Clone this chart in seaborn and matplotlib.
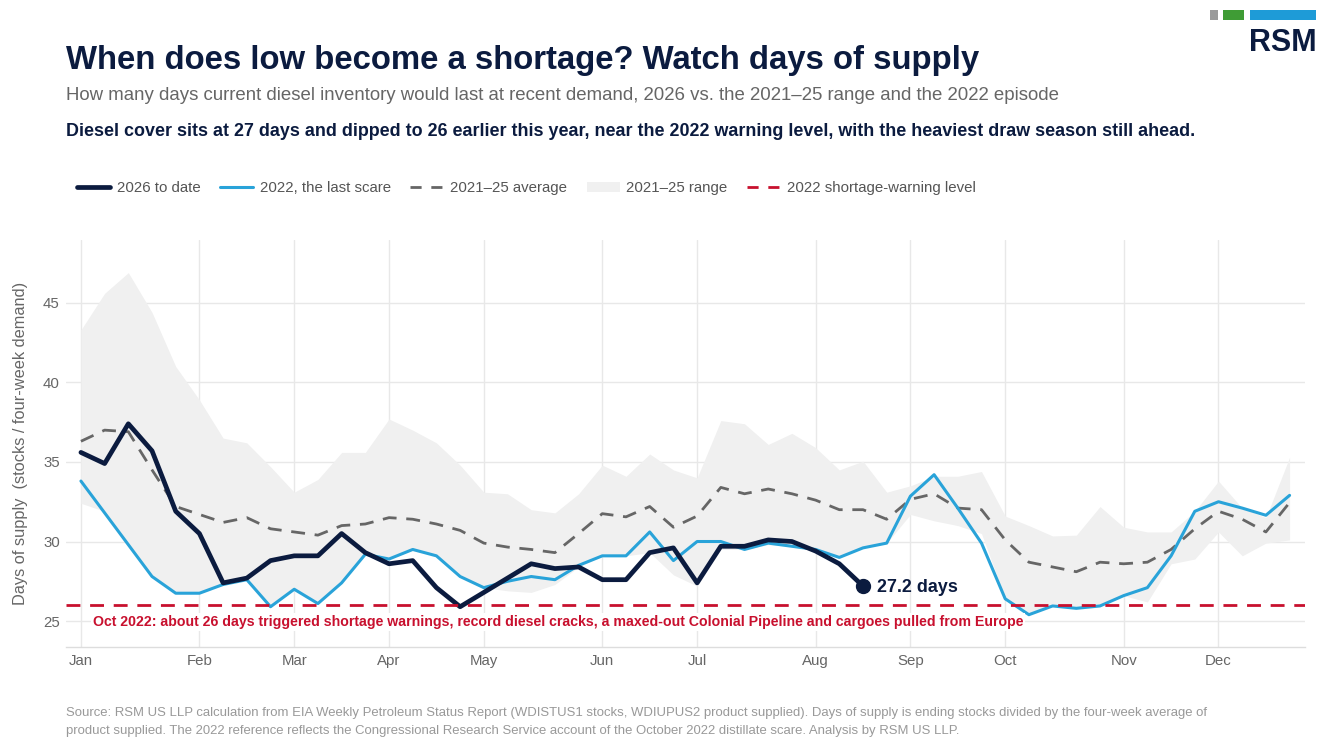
import matplotlib
matplotlib.use("Agg")
import matplotlib.pyplot as plt
from matplotlib.lines import Line2D
from matplotlib.patches import Patch, Rectangle
import seaborn as sns
import pandas as pd

# ---------------- data ----------------
weeks = list(range(52))
month_ticks = [0, 5, 9, 13, 17, 22, 26, 31, 35, 39, 44, 48]
month_labels = ["Jan", "Feb", "Mar", "Apr", "May", "Jun", "Jul", "Aug", "Sep", "Oct", "Nov", "Dec"]

days_2026 = [35.6, 34.9, 37.4, 35.7, 31.9, 30.5, 27.4, 27.7, 28.8, 29.1, 29.1, 30.5,
             29.3, 28.6, 28.8, 27.1, 25.9, 26.8, 27.7, 28.6, 28.3, 28.4, 27.6, 27.6,
             29.3, 29.6, 27.4, 29.7, 29.7, 30.1, 30.0, 29.4, 28.6, 27.2]

days_2022 = [33.8, 31.8, 29.8, 27.8, 26.75, 26.75, 27.3, 27.6, 25.9, 27.0, 26.1, 27.4,
             29.2, 28.9, 29.5, 29.1, 27.8, 27.1, 27.5, 27.8, 27.6, 28.5, 29.1, 29.1,
             30.6, 28.8, 30.0, 30.0, 29.5, 29.9, 29.7, 29.5, 29.0, 29.6, 29.9, 32.85,
             34.2, 32.1, 29.9, 26.4, 25.4, 25.95, 25.8, 25.95, 26.6, 27.1, 29.1, 31.9,
             32.5, 32.1, 31.65, 32.9]

avg_2125 = [36.3, 37.0, 36.9, 34.5, 32.2, 31.7, 31.2, 31.5, 30.8, 30.6, 30.4, 31.0,
            31.1, 31.5, 31.4, 31.1, 30.7, 29.9, 29.65, 29.5, 29.3, 30.5, 31.75, 31.55,
            32.2, 30.9, 31.6, 33.4, 33.0, 33.3, 33.0, 32.6, 32.0, 32.0, 31.4, 32.65,
            33.0, 32.1, 32.0, 30.1, 28.7, 28.4, 28.1, 28.7, 28.6, 28.7, 29.5, 30.8,
            31.9, 31.4, 30.6, 32.45]

range_hi = [43.3, 45.6, 46.9, 44.4, 41.0, 38.9, 36.5, 36.2, 34.7, 33.1, 33.9, 35.6,
            35.6, 37.7, 37.0, 36.2, 34.8, 33.1, 33.0, 32.0, 31.8, 33.0, 34.8, 34.1,
            35.5, 34.5, 34.0, 37.6, 37.4, 36.1, 36.8, 35.9, 34.5, 35.05, 33.1, 33.5,
            34.1, 34.1, 34.4, 31.6, 31.0, 30.35, 30.4, 32.2, 30.9, 30.6, 30.6, 31.9,
            33.8, 32.1, 31.5, 35.3]

range_lo = [32.4, 31.9, 29.8, 27.8, 26.75, 26.75, 27.3, 27.6, 25.9, 27.0, 26.1, 27.4,
            29.2, 28.9, 29.5, 29.1, 27.8, 27.1, 26.9, 26.8, 27.3, 28.4, 29.1, 29.1,
            29.3, 27.9, 27.2, 29.5, 29.5, 29.8, 29.7, 29.4, 29.0, 29.6, 29.9, 31.7,
            31.3, 31.0, 30.5, 26.4, 25.4, 25.95, 25.8, 25.95, 26.6, 26.2, 28.6, 28.9,
            30.6, 29.1, 29.9, 30.1]

warning_level = 26.0
y_ticks = [25, 30, 35, 40, 45]

# ---------------- style ----------------
NAVY = "#0b1b3f"
BLUE = "#29a3d9"
GRAYD = "#666666"
BAND = "#f0f0f0"
RED = "#c8102e"
GRID = "#e8e8e8"

sns.set_theme(style="white")
plt.rcParams["font.family"] = ["Liberation Sans", "DejaVu Sans"]

W, H = 1323, 752
fig = plt.figure(figsize=(W / 100, H / 100), dpi=100)
fig.patch.set_facecolor("white")
ax = fig.add_axes([66 / W, 1 - 647 / H, (1305 - 66) / W, (647 - 240) / H])
ax.set_facecolor("white")

# band
ax.fill_between(weeks, range_lo, range_hi, color=BAND, linewidth=0, zorder=1)

df26 = pd.DataFrame({"week": weeks[:len(days_2026)], "days": days_2026})
df22 = pd.DataFrame({"week": weeks, "days": days_2022})
dfav = pd.DataFrame({"week": weeks, "days": avg_2125})

sns.lineplot(data=dfav, x="week", y="days", ax=ax, color=GRAYD, linewidth=2.0,
             linestyle=(0, (5, 3.5)), zorder=3)
sns.lineplot(data=df22, x="week", y="days", ax=ax, color=BLUE, linewidth=2.2, zorder=4)
sns.lineplot(data=df26, x="week", y="days", ax=ax, color=NAVY, linewidth=3.4, zorder=5)

ax.axhline(warning_level, color=RED, linewidth=2.0, linestyle=(0, (5, 3.5)), zorder=6)

last_w = df26["week"].iloc[-1]
last_v = df26["days"].iloc[-1]
ax.plot([last_w], [last_v], marker="o", markersize=10, color=NAVY, zorder=7)
ax.text(last_w + 0.6, last_v - 0.08, f"{last_v:.1f} days", fontsize=12.9, fontweight="bold",
        color=NAVY, va="center", ha="left", zorder=8)

ax.text(0.5, 24.95,
        "Oct 2022: about 26 days triggered shortage warnings, record diesel cracks, "
        "a maxed-out Colonial Pipeline and cargoes pulled from Europe",
        fontsize=10.16, fontweight="bold", color=RED, va="center", ha="left", zorder=8,
        bbox=dict(facecolor="white", edgecolor="none", pad=1.5))

ax.set_xlim(-0.63, 51.65)
ax.set_ylim(23.37, 48.95)
ax.set_xticks(month_ticks)
ax.set_xticklabels(month_labels)
ax.set_yticks(y_ticks)
ax.tick_params(axis="both", length=0, labelsize=10.8, labelcolor="#666666", pad=4.5)
ax.tick_params(axis="x", pad=5)
ax.grid(True, color=GRID, linewidth=1.0, zorder=0)
ax.set_axisbelow(True)
for s in ["top", "right", "left"]:
    ax.spines[s].set_visible(False)
ax.spines["bottom"].set_color("#dddddd")
ax.spines["bottom"].set_linewidth(1.0)
ax.set_xlabel("")
ax.set_ylabel("Days of supply  (stocks / four-week demand)", fontsize=11.8, color="#666666",
              labelpad=11)

# ---------------- titles ----------------
fig.text(66 / W, 1 - 60 / H, "When does low become a shortage? Watch days of supply",
         fontsize=23.65, fontweight="bold", color=NAVY, va="center", ha="left")
fig.text(66 / W, 1 - 96 / H,
         "How many days current diesel inventory would last at recent demand, "
         "2026 vs. the 2021\u201325 range and the 2022 episode",
         fontsize=13.42, color="#666666", va="center", ha="left")
fig.text(66 / W, 1 - 131 / H,
         "Diesel cover sits at 27 days and dipped to 26 earlier this year, near the 2022 "
         "warning level, with the heaviest draw season still ahead.",
         fontsize=12.84, fontweight="bold", color=NAVY, va="center", ha="left")

# ---------------- legend ----------------
handles = [
    Line2D([0], [0], color=NAVY, linewidth=3.4),
    Line2D([0], [0], color=BLUE, linewidth=2.2),
    Line2D([0], [0], color=GRAYD, linewidth=2.0, linestyle=(0, (4, 3.5))),
    Patch(facecolor=BAND, edgecolor="none"),
    Line2D([0], [0], color=RED, linewidth=2.0, linestyle=(0, (4, 3.5))),
]
labels = ["2026 to date", "2022, the last scare", "2021\u201325 average", "2021\u201325 range",
          "2022 shortage-warning level"]
leg = fig.legend(handles, labels, loc="center left", bbox_to_anchor=(77 / W, 1 - 188 / H),
                 ncol=5, frameon=False, fontsize=10.8, handlelength=2.2, handletextpad=0.45,
                 columnspacing=1.3, borderpad=0, borderaxespad=0)
for t in leg.get_texts():
    t.set_color("#555555")

# ---------------- footer ----------------
fig.text(66 / W, 1 - 713 / H,
         "Source: RSM US LLP calculation from EIA Weekly Petroleum Status Report (WDISTUS1 stocks, "
         "WDIUPUS2 product supplied). Days of supply is ending stocks divided by the four-week average of",
         fontsize=9.45, color="#999999", va="center", ha="left")
fig.text(66 / W, 1 - 731 / H,
         "product supplied. The 2022 reference reflects the Congressional Research Service account "
         "of the October 2022 distillate scare. Analysis by RSM US LLP.",
         fontsize=9.45, color="#999999", va="center", ha="left")

# ---------------- logo ----------------
for (x0, x1, c) in [(1210, 1218, "#9a9a9a"), (1223, 1244, "#3f9c35"), (1250, 1316, "#1e9bd7")]:
    fig.patches.append(Rectangle((x0 / W, 1 - 20 / H), (x1 - x0) / W, 10 / H,
                                 transform=fig.transFigure, facecolor=c, edgecolor="none"))
fig.text(1317 / W, 1 - 43 / H, "RSM", fontsize=22, fontweight="bold", color=NAVY,
         va="center", ha="right")

fig.savefig("out.png", dpi=100, facecolor="white")
